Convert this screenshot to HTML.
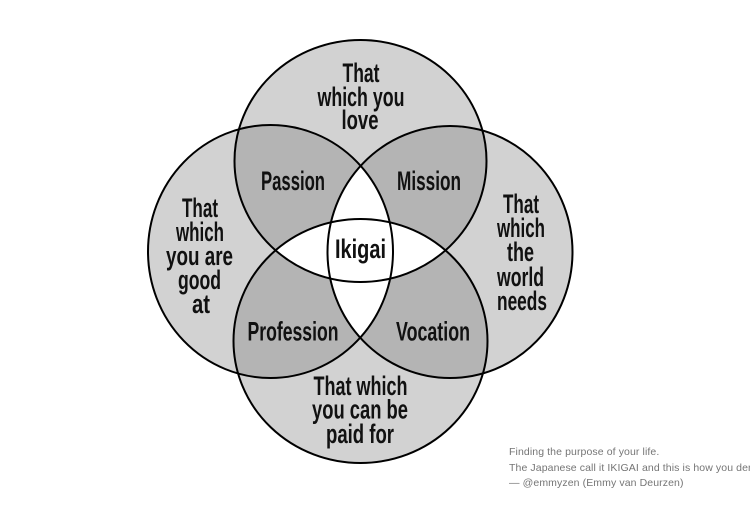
<!DOCTYPE html>
<html>
<head>
<meta charset="utf-8">
<style>
html,body{margin:0;padding:0;background:#fff;width:750px;height:510px;overflow:hidden}
svg{display:block}
.t{font-family:"Liberation Sans",Arial,sans-serif;font-size:27px;font-weight:bold;fill:#111;text-anchor:middle}
.f{font-family:"Liberation Sans",Arial,sans-serif;font-size:10.5px;fill:#757575;letter-spacing:0.1px}
</style>
</head>
<body>
<svg width="750" height="510" viewBox="0 0 750 510" xmlns="http://www.w3.org/2000/svg">
<defs>
<clipPath id="cT"><ellipse cx="360.5" cy="161" rx="126" ry="121"/></clipPath>
<clipPath id="cB"><ellipse cx="360.5" cy="341" rx="127" ry="122"/></clipPath>
<clipPath id="cL"><ellipse cx="270.5" cy="251.5" rx="122.5" ry="126.5"/></clipPath>
</defs>
<rect width="750" height="510" fill="#fff"/>
<g fill="#d2d2d2">
<ellipse cx="360.5" cy="161" rx="126" ry="121"/>
<ellipse cx="360.5" cy="341" rx="127" ry="122"/>
<ellipse cx="270.5" cy="251.5" rx="122.5" ry="126.5"/>
<ellipse cx="450" cy="252" rx="122.5" ry="126"/>
</g>
<g fill="#b4b4b4">
<g clip-path="url(#cT)">
<ellipse cx="270.5" cy="251.5" rx="122.5" ry="126.5"/>
<ellipse cx="450" cy="252" rx="122.5" ry="126"/>
</g>
<g clip-path="url(#cB)">
<ellipse cx="270.5" cy="251.5" rx="122.5" ry="126.5"/>
<ellipse cx="450" cy="252" rx="122.5" ry="126"/>
</g>
</g>
<g fill="#fff">
<g clip-path="url(#cL)"><ellipse cx="450" cy="252" rx="122.5" ry="126"/></g>
<g clip-path="url(#cT)"><ellipse cx="360.5" cy="341" rx="127" ry="122"/></g>
</g>
<g fill="none" stroke="#000" stroke-width="2">
<ellipse cx="360.5" cy="161" rx="126" ry="121"/>
<ellipse cx="360.5" cy="341" rx="127" ry="122"/>
<ellipse cx="270.5" cy="251.5" rx="122.5" ry="126.5"/>
<ellipse cx="450" cy="252" rx="122.5" ry="126"/>
</g>

<!-- top -->
<text class="t" x="361" y="82" textLength="37" lengthAdjust="spacingAndGlyphs">That</text>
<text class="t" x="361" y="106" textLength="87" lengthAdjust="spacingAndGlyphs">which you</text>
<text class="t" x="360" y="129" textLength="37" lengthAdjust="spacingAndGlyphs">love</text>

<text class="t" x="293" y="190" textLength="64" lengthAdjust="spacingAndGlyphs">Passion</text>
<text class="t" x="429" y="190" textLength="64" lengthAdjust="spacingAndGlyphs">Mission</text>

<!-- left -->
<text class="t" x="200" y="217" textLength="36" lengthAdjust="spacingAndGlyphs">That</text>
<text class="t" x="200" y="241" textLength="48" lengthAdjust="spacingAndGlyphs">which</text>
<text class="t" x="199.5" y="265" textLength="67" lengthAdjust="spacingAndGlyphs">you are</text>
<text class="t" x="199.5" y="289" textLength="43" lengthAdjust="spacingAndGlyphs">good</text>
<text class="t" x="201" y="313" textLength="18" lengthAdjust="spacingAndGlyphs">at</text>

<!-- center -->
<text class="t" x="360.5" y="258" textLength="51" lengthAdjust="spacingAndGlyphs">Ikigai</text>

<!-- right -->
<text class="t" x="521" y="213" textLength="36" lengthAdjust="spacingAndGlyphs">That</text>
<text class="t" x="521" y="237" textLength="48" lengthAdjust="spacingAndGlyphs">which</text>
<text class="t" x="520.5" y="261" textLength="27" lengthAdjust="spacingAndGlyphs">the</text>
<text class="t" x="520.5" y="286" textLength="47" lengthAdjust="spacingAndGlyphs">world</text>
<text class="t" x="522" y="310" textLength="50" lengthAdjust="spacingAndGlyphs">needs</text>

<text class="t" x="293" y="340.5" textLength="91" lengthAdjust="spacingAndGlyphs">Profession</text>
<text class="t" x="433" y="340.5" textLength="74" lengthAdjust="spacingAndGlyphs">Vocation</text>

<!-- bottom -->
<text class="t" x="360.5" y="395" textLength="94" lengthAdjust="spacingAndGlyphs">That which</text>
<text class="t" x="360" y="418.5" textLength="96" lengthAdjust="spacingAndGlyphs">you can be</text>
<text class="t" x="360" y="443" textLength="68" lengthAdjust="spacingAndGlyphs">paid for</text>

<!-- footer -->
<text class="f" x="509" y="455">Finding the purpose of your life.</text>
<text class="f" x="509" y="471">The Japanese call it IKIGAI and this is how you derive it</text>
<text class="f" x="509" y="486">— @emmyzen (Emmy van Deurzen)</text>
</svg>
</body>
</html>
